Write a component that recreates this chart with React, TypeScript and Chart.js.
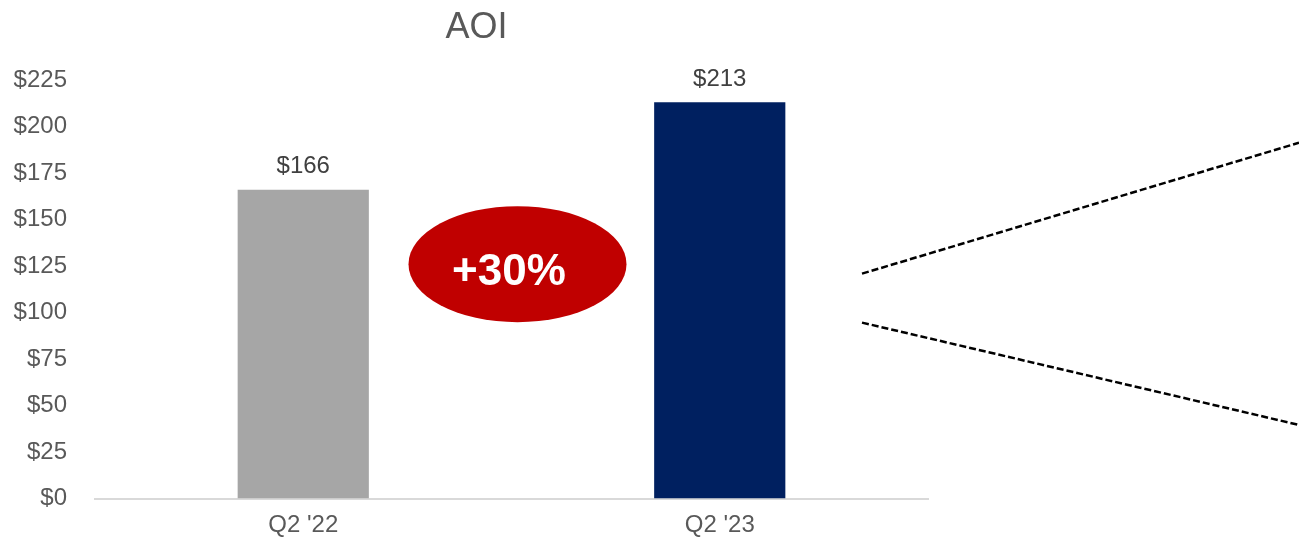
import React, { useEffect, useRef } from "react";
import { Chart, registerables } from "chart.js";

Chart.register(...registerables);

const categories = ["Q2 '22", "Q2 '23"];
const aoiValues = [166, 213];
const barColors = ["#A6A6A6", "#002060"];
const yMax = 225;
const yStep = 25;
const chartTitle = "AOI";
const changeLabel = "+30%";
// value levels (on the y scale) where the callout lines start and end
const calloutStart = [120.9, 94.6];
const calloutEnd = [191.3, 39.6];

const FONT = "'Liberation Sans', Arial, sans-serif";

const overlayPlugin = {
  id: "overlay",
  afterDatasetsDraw(chart: any) {
    const { ctx, chartArea } = chart;
    const xs = chart.scales.x;
    const ys = chart.scales.y;
    const meta = chart.getDatasetMeta(0);
    ctx.save();

    // title
    ctx.fillStyle = "#595959";
    ctx.font = `36px ${FONT}`;
    ctx.textAlign = "center";
    ctx.textBaseline = "alphabetic";
    ctx.fillText(chartTitle, chartArea.left + chartArea.width * 0.458, 38);

    // value labels
    ctx.fillStyle = "#404040";
    ctx.font = `24px ${FONT}`;
    meta.data.forEach((bar: any, i: number) => {
      ctx.fillText("$" + aoiValues[i], bar.x, bar.y - 16.5);
    });

    // ellipse callout
    const x0 = xs.getPixelForValue(0);
    const x1 = xs.getPixelForValue(1);
    const cx = (x0 + x1) / 2 + 6;
    const cy = ys.getPixelForValue(126);
    ctx.fillStyle = "#C00000";
    ctx.beginPath();
    ctx.ellipse(cx, cy, 109, 58, 0, 0, Math.PI * 2);
    ctx.fill();
    ctx.fillStyle = "#FFFFFF";
    ctx.font = `bold 44px ${FONT}`;
    ctx.textBaseline = "alphabetic";
    ctx.fillText(changeLabel, cx - 8.5, cy + 20.5);

    // dashed callout lines
    ctx.strokeStyle = "#000000";
    ctx.lineWidth = 2.5;
    ctx.setLineDash([7, 3]);
    const sx = chartArea.right - 66;
    const ex = chart.width;
    for (let i = 0; i < 2; i++) {
      ctx.beginPath();
      ctx.moveTo(sx, ys.getPixelForValue(calloutStart[i]));
      ctx.lineTo(ex, ys.getPixelForValue(calloutEnd[i]));
      ctx.stroke();
    }
    ctx.restore();
  },
};

export default function App() {
  const ref = useRef<HTMLCanvasElement>(null);
  useEffect(() => {
    document.body.style.margin = "0";
    const chart = new Chart(ref.current as HTMLCanvasElement, {
      type: "bar",
      data: {
        labels: categories,
        datasets: [
          {
            data: aoiValues,
            backgroundColor: barColors,
            barPercentage: 0.315,
            categoryPercentage: 1,
          },
        ],
      },
      options: {
        responsive: false,
        animation: false,
        devicePixelRatio: 1,
        layout: { padding: { top: 80, right: 371, bottom: 0, left: 0 } },
        plugins: {
          legend: { display: false },
          title: { display: false },
          tooltip: { enabled: false },
        },
        scales: {
          x: {
            grid: { display: false, drawTicks: false },
            border: { display: true, color: "#D9D9D9", width: 2 },
            ticks: {
              color: "#595959",
              font: { family: FONT, size: 24 },
              padding: 12,
            },
            afterFit: (s: any) => {
              s.height = 41.5;
            },
          },
          y: {
            min: 0,
            max: yMax,
            grid: { display: false, drawTicks: false },
            border: { display: false },
            ticks: {
              stepSize: yStep,
              color: "#595959",
              font: { family: FONT, size: 24 },
              padding: 28,
              callback: (v: any) => "$" + v,
            },
            afterFit: (s: any) => {
              s.width = 95;
            },
          },
        },
      },
      plugins: [overlayPlugin],
    });
    return () => chart.destroy();
  }, []);
  return (
    <div style={{ width: 1299, height: 541 }}>
      <canvas ref={ref} width={1299} height={541} style={{ width: 1299, height: 541, display: "block" }} />
    </div>
  );
}
